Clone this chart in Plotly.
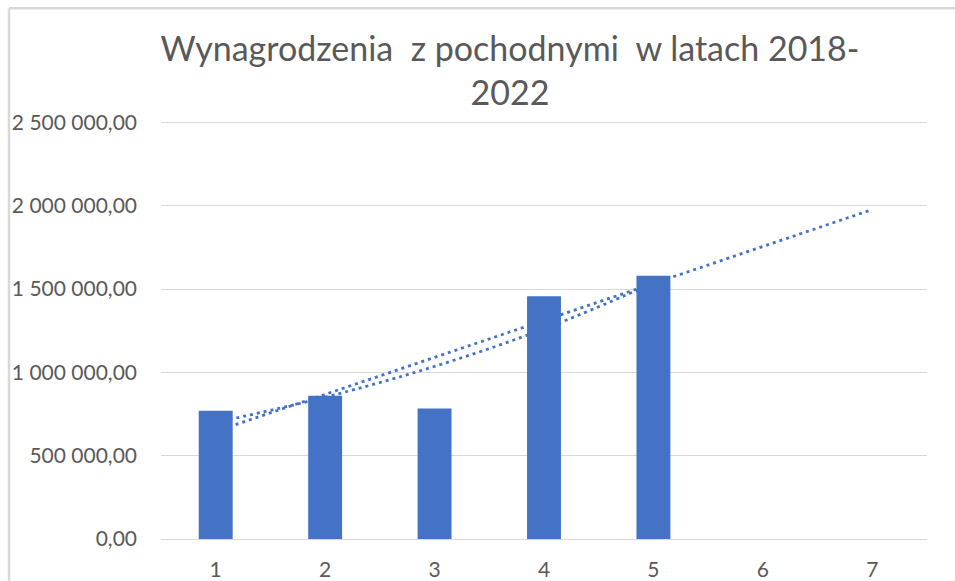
import numpy as np
import plotly.graph_objects as go

# ---- data ----
categories = [1, 2, 3, 4, 5, 6, 7]
tick_labels = ["1", "2", "3", "4", "5", "6", "7"]
bar_x = [1, 2, 3, 4, 5]
wynagrodzenia = [769000, 860000, 783000, 1456000, 1580000]
forecast_to = 7
y_max = 2500000
y_step = 500000

title_text = "Wynagrodzenia\u00a0\u00a0z pochodnymi\u00a0\u00a0w latach 2018-<br>2022"

# ---- trendlines derived from the data (as Excel does) ----
bx = np.array(bar_x, dtype=float)
by = np.array(wynagrodzenia, dtype=float)
lin_coef = np.polyfit(bx, by, 1)
lin_x = [bar_x[0], forecast_to]
lin_y = list(np.polyval(lin_coef, lin_x))
exp_coef = np.polyfit(bx, np.log(by), 1)
exp_y = list(np.exp(np.polyval(exp_coef, bx)))

BLUE = "#4472C4"
GRID = "#D9D9D9"
TXT = "#595959"
FONT = "Lato, Carlito, Calibri, sans-serif"

fig = go.Figure()
# trendlines on the base axes (drawn underneath)
fig.add_trace(go.Scatter(x=lin_x, y=lin_y, mode="lines", xaxis="x", yaxis="y",
                         line=dict(color=BLUE, width=2.8, dash="3px,4px"),
                         hoverinfo="skip", showlegend=False))
fig.add_trace(go.Scatter(x=bar_x, y=exp_y, mode="lines", xaxis="x", yaxis="y",
                         line=dict(color=BLUE, width=2.8, dash="3px,4px", shape="spline"),
                         hoverinfo="skip", showlegend=False))
# bars on overlaying axes (drawn on top)
fig.add_trace(go.Bar(x=bar_x, y=wynagrodzenia, xaxis="x2", yaxis="y2",
                     marker=dict(color=BLUE, line=dict(width=0)), width=0.31,
                     showlegend=False))

xr = [0.5, 7.5]
yr = [0, y_max * 1.008]
fig.update_layout(
    width=955, height=581, autosize=False,
    margin=dict(l=161, r=28, t=119, b=42, autoexpand=False),
    paper_bgcolor="white", plot_bgcolor="white",
    separators=", ",
    font=dict(family=FONT, color=TXT, size=21),
    title=dict(text=title_text, x=0.534, xanchor="center", xref="container",
               y=1 - 61 / 581, yanchor="middle", yref="container", automargin=False,
               font=dict(family=FONT, size=34, color=TXT)),
    xaxis=dict(range=xr, tickmode="array", tickvals=categories, ticktext=tick_labels,
               showgrid=False, zeroline=False, showline=False, ticks="", automargin=False,
               ticklabelstandoff=16, tickfont=dict(size=21, color=TXT)),
    yaxis=dict(range=yr, tick0=0, dtick=y_step, tickformat=",.2f", showgrid=True,
               gridcolor=GRID, gridwidth=1.3, zeroline=True, zerolinecolor=GRID,
               zerolinewidth=1.3, showline=False, ticks="", automargin=False,
               ticklabelstandoff=23, tickfont=dict(size=21, color=TXT)),
    xaxis2=dict(range=xr, overlaying="x", visible=False),
    yaxis2=dict(range=yr, overlaying="y", visible=False),
    shapes=[
        dict(type="line", xref="paper", yref="paper", x0=-0.1984, x1=1.1, y0=1.2635, y1=1.2635,
             line=dict(color=GRID, width=2.5)),
        dict(type="line", xref="paper", yref="paper", x0=-0.1984, x1=-0.1984, y0=-0.2, y1=1.2635,
             line=dict(color=GRID, width=2.5)),
    ],
)

fig.write_html("out.html", config={"displayModeBar": False, "responsive": False},
               post_script="document.body.style.margin='0px';document.body.style.padding='0px';")
